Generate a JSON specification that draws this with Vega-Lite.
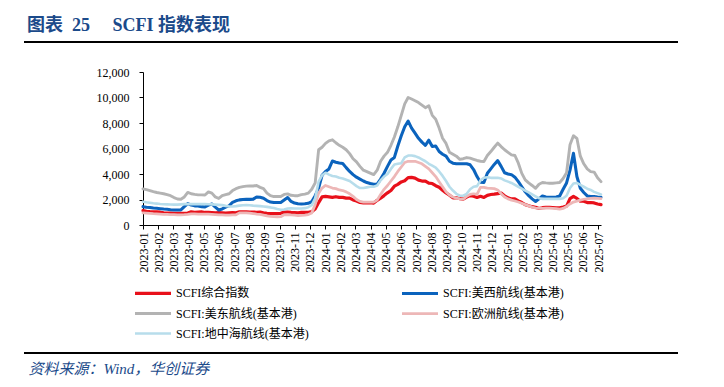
{
  "$schema": "https://vega.github.io/schema/vega-lite/v6.json",
  "background": "white",
  "autosize": {"type": "none"},
  "padding": {"left": 143, "top": 72, "right": 123, "bottom": 162},
  "width": 458,
  "height": 153,
  "title": {"text": "图表\u00a0\u00a025\u00a0\u00a0\u00a0\u00a0\u00a0SCFI\u00a0指数表现", "anchor": "start", "frame": "group", "dx": -116, "dy": 23, "offset": 11, "baseline": "bottom", "font": "'Liberation Serif', 'Noto Sans CJK SC'", "fontSize": 18, "fontWeight": "bold", "color": "#1B4A8A"},
  "config": {
    "view": {"stroke": null},
    "axis": {"labelFont": "Liberation Serif", "labelFontSize": 12, "labelColor": "#000000", "domainColor": "#000000", "tickColor": "#000000", "grid": false, "domainWidth": 1, "tickWidth": 1, "labelOverlap": false, "tickSize": 4},
    "axisX": {"labelFlush": false, "labelBound": false, "labelOverlap": false},
    "axisY": {"labelOverlap": false}
  },
  "layer": [
    {
      "data": {"values": [
{"d":"2023-01-06","a":1130,"b":1440,"c":2830,"e":950,"f":1830},
{"d":"2023-01-13","a":1079,"b":1400,"c":2770,"e":930,"f":1780},
{"d":"2023-01-20","a":1053,"b":1370,"c":2700,"e":910,"f":1740},
{"d":"2023-01-27","a":1040,"b":1330,"c":2620,"e":890,"f":1700},
{"d":"2023-02-03","a":1029,"b":1310,"c":2550,"e":880,"f":1680},
{"d":"2023-02-10","a":1004,"b":1280,"c":2500,"e":860,"f":1650},
{"d":"2023-02-17","a":946,"b":1250,"c":2450,"e":840,"f":1630},
{"d":"2023-02-24","a":941,"b":1230,"c":2380,"e":830,"f":1620},
{"d":"2023-03-03","a":926,"b":1200,"c":2300,"e":820,"f":1610},
{"d":"2023-03-10","a":906,"b":1180,"c":2150,"e":810,"f":1600},
{"d":"2023-03-17","a":910,"b":1180,"c":2040,"e":800,"f":1600},
{"d":"2023-03-24","a":908,"b":1180,"c":2020,"e":800,"f":1620},
{"d":"2023-03-31","a":923,"b":1440,"c":2200,"e":810,"f":1640},
{"d":"2023-04-07","a":934,"b":1680,"c":2560,"e":830,"f":1650},
{"d":"2023-04-14","a":1033,"b":1560,"c":2450,"e":880,"f":1640},
{"d":"2023-04-21","a":999,"b":1500,"c":2400,"e":870,"f":1640},
{"d":"2023-04-28","a":1009,"b":1490,"c":2360,"e":860,"f":1650},
{"d":"2023-05-05","a":1025,"b":1440,"c":2360,"e":860,"f":1640},
{"d":"2023-05-12","a":983,"b":1420,"c":2350,"e":850,"f":1640},
{"d":"2023-05-19","a":1001,"b":1560,"c":2600,"e":850,"f":1630},
{"d":"2023-05-26","a":980,"b":1650,"c":2500,"e":840,"f":1620},
{"d":"2023-06-02","a":955,"b":1400,"c":2200,"e":820,"f":1600},
{"d":"2023-06-09","a":969,"b":1180,"c":2080,"e":800,"f":1580},
{"d":"2023-06-16","a":955,"b":1260,"c":2300,"e":790,"f":1560},
{"d":"2023-06-23","a":931,"b":1400,"c":2380,"e":780,"f":1500},
{"d":"2023-06-30","a":953,"b":1500,"c":2450,"e":780,"f":1450},
{"d":"2023-07-07","a":979,"b":1780,"c":2700,"e":790,"f":1450},
{"d":"2023-07-14","a":957,"b":1900,"c":2850,"e":800,"f":1480},
{"d":"2023-07-21","a":1029,"b":1970,"c":2950,"e":950,"f":1520},
{"d":"2023-07-28","a":1041,"b":2000,"c":3010,"e":960,"f":1550},
{"d":"2023-08-04","a":1039,"b":2020,"c":3050,"e":960,"f":1560},
{"d":"2023-08-11","a":1013,"b":2010,"c":3070,"e":940,"f":1550},
{"d":"2023-08-18","a":1013,"b":2030,"c":3060,"e":900,"f":1520},
{"d":"2023-08-25","a":1000,"b":2200,"c":3100,"e":860,"f":1500},
{"d":"2023-09-01","a":1012,"b":2180,"c":2950,"e":830,"f":1480},
{"d":"2023-09-08","a":961,"b":2100,"c":2850,"e":780,"f":1450},
{"d":"2023-09-15","a":921,"b":1920,"c":2500,"e":720,"f":1420},
{"d":"2023-09-22","a":897,"b":1800,"c":2300,"e":680,"f":1380},
{"d":"2023-09-29","a":886,"b":1760,"c":2230,"e":650,"f":1330},
{"d":"2023-10-06","a":886,"b":1760,"c":2230,"e":640,"f":1250},
{"d":"2023-10-13","a":917,"b":1770,"c":2240,"e":650,"f":1200},
{"d":"2023-10-20","a":1012,"b":1960,"c":2400,"e":800,"f":1220},
{"d":"2023-10-27","a":1013,"b":2150,"c":2440,"e":820,"f":1300},
{"d":"2023-11-03","a":984,"b":1850,"c":2330,"e":790,"f":1310},
{"d":"2023-11-10","a":977,"b":1720,"c":2300,"e":770,"f":1300},
{"d":"2023-11-17","a":951,"b":1660,"c":2300,"e":740,"f":1290},
{"d":"2023-11-24","a":1000,"b":1650,"c":2380,"e":760,"f":1300},
{"d":"2023-12-01","a":993,"b":1660,"c":2420,"e":780,"f":1320},
{"d":"2023-12-08","a":1002,"b":1700,"c":2500,"e":820,"f":1400},
{"d":"2023-12-15","a":1047,"b":1830,"c":2800,"e":950,"f":1550},
{"d":"2023-12-22","a":1254,"b":2300,"c":3300,"e":1600,"f":2100},
{"d":"2023-12-29","a":1760,"b":2900,"c":5900,"e":2500,"f":3400},
{"d":"2024-01-05","a":2206,"b":3900,"c":6100,"e":2900,"f":3900},
{"d":"2024-01-12","a":2239,"b":4200,"c":6400,"e":3100,"f":4100},
{"d":"2024-01-19","a":2206,"b":4400,"c":6600,"e":3000,"f":3950},
{"d":"2024-01-26","a":2170,"b":5020,"c":6680,"e":2900,"f":3850},
{"d":"2024-02-02","a":2218,"b":4920,"c":6450,"e":2850,"f":3800},
{"d":"2024-02-09","a":2166,"b":4860,"c":6250,"e":2750,"f":3700},
{"d":"2024-02-16","a":2166,"b":4820,"c":6100,"e":2700,"f":3650},
{"d":"2024-02-23","a":2110,"b":4500,"c":5900,"e":2600,"f":3550},
{"d":"2024-03-01","a":2109,"b":4200,"c":5600,"e":2450,"f":3450},
{"d":"2024-03-08","a":1964,"b":3950,"c":5200,"e":2250,"f":3250},
{"d":"2024-03-15","a":1885,"b":3750,"c":4950,"e":2000,"f":3050},
{"d":"2024-03-22","a":1772,"b":3600,"c":4600,"e":1850,"f":2900},
{"d":"2024-03-29","a":1731,"b":3450,"c":4300,"e":1800,"f":2900},
{"d":"2024-04-05","a":1732,"b":3330,"c":4190,"e":1790,"f":2950},
{"d":"2024-04-12","a":1745,"b":3250,"c":4070,"e":1790,"f":3000},
{"d":"2024-04-19","a":1717,"b":3200,"c":3950,"e":1790,"f":3000},
{"d":"2024-04-26","a":1940,"b":3200,"c":4300,"e":1950,"f":3100},
{"d":"2024-05-03","a":2100,"b":3600,"c":5000,"e":2400,"f":3500},
{"d":"2024-05-10","a":2305,"b":4060,"c":5400,"e":2800,"f":3800},
{"d":"2024-05-17","a":2521,"b":4600,"c":5700,"e":3100,"f":4000},
{"d":"2024-05-24","a":2704,"b":5100,"c":6250,"e":3450,"f":4400},
{"d":"2024-05-31","a":3044,"b":5300,"c":6900,"e":3800,"f":4750},
{"d":"2024-06-07","a":3184,"b":6200,"c":7700,"e":4200,"f":4800},
{"d":"2024-06-14","a":3379,"b":7000,"c":8600,"e":4550,"f":4850},
{"d":"2024-06-21","a":3475,"b":7700,"c":9500,"e":4900,"f":5300},
{"d":"2024-06-28","a":3714,"b":8150,"c":10000,"e":5000,"f":5450},
{"d":"2024-07-05","a":3733,"b":7600,"c":9880,"e":5000,"f":5450},
{"d":"2024-07-12","a":3674,"b":7200,"c":9750,"e":5000,"f":5400},
{"d":"2024-07-19","a":3516,"b":6800,"c":9600,"e":4900,"f":5300},
{"d":"2024-07-26","a":3448,"b":6500,"c":9400,"e":4800,"f":5150},
{"d":"2024-08-02","a":3447,"b":6250,"c":9200,"e":4600,"f":5000},
{"d":"2024-08-09","a":3281,"b":6650,"c":9350,"e":4400,"f":4800},
{"d":"2024-08-16","a":3253,"b":6150,"c":8600,"e":4100,"f":4650},
{"d":"2024-08-23","a":3082,"b":6200,"c":8300,"e":3800,"f":4500},
{"d":"2024-08-30","a":2963,"b":5760,"c":7600,"e":3400,"f":4200},
{"d":"2024-09-06","a":2727,"b":5550,"c":6800,"e":3000,"f":3850},
{"d":"2024-09-13","a":2510,"b":5400,"c":6400,"e":2600,"f":3450},
{"d":"2024-09-20","a":2340,"b":5000,"c":5700,"e":2350,"f":3000},
{"d":"2024-09-27","a":2135,"b":4850,"c":5550,"e":2200,"f":2700},
{"d":"2024-10-04","a":2135,"b":4800,"c":5400,"e":2100,"f":2450},
{"d":"2024-10-11","a":2062,"b":4800,"c":5150,"e":2050,"f":2300},
{"d":"2024-10-18","a":2034,"b":4800,"c":5200,"e":2020,"f":2300},
{"d":"2024-10-25","a":2185,"b":4800,"c":5290,"e":2250,"f":2450},
{"d":"2024-11-01","a":2303,"b":4720,"c":5240,"e":2400,"f":2800},
{"d":"2024-11-08","a":2253,"b":4350,"c":5150,"e":2450,"f":3000},
{"d":"2024-11-15","a":2160,"b":3800,"c":5060,"e":2400,"f":3050},
{"d":"2024-11-22","a":2251,"b":3350,"c":5000,"e":2950,"f":3500},
{"d":"2024-11-29","a":2160,"b":3330,"c":4980,"e":2950,"f":3700},
{"d":"2024-12-06","a":2326,"b":4060,"c":5450,"e":2900,"f":3750},
{"d":"2024-12-13","a":2390,"b":4400,"c":5760,"e":2880,"f":3700},
{"d":"2024-12-20","a":2417,"b":4750,"c":6100,"e":2850,"f":3700},
{"d":"2024-12-27","a":2460,"b":5050,"c":6420,"e":2750,"f":3700},
{"d":"2025-01-03","a":2505,"b":4600,"c":6150,"e":2450,"f":3650},
{"d":"2025-01-10","a":2292,"b":4100,"c":5900,"e":2200,"f":3500},
{"d":"2025-01-17","a":2130,"b":4000,"c":5700,"e":2050,"f":3400},
{"d":"2025-01-24","a":2046,"b":3950,"c":5500,"e":1950,"f":3300},
{"d":"2025-01-31","a":2046,"b":3750,"c":5450,"e":1880,"f":3150},
{"d":"2025-02-07","a":1896,"b":3400,"c":4850,"e":1800,"f":3000},
{"d":"2025-02-14","a":1762,"b":3000,"c":4050,"e":1700,"f":2850},
{"d":"2025-02-21","a":1596,"b":2600,"c":3540,"e":1600,"f":2700},
{"d":"2025-02-28","a":1516,"b":2300,"c":3300,"e":1500,"f":2550},
{"d":"2025-03-07","a":1436,"b":2050,"c":3100,"e":1400,"f":2400},
{"d":"2025-03-14","a":1394,"b":1850,"c":2880,"e":1330,"f":2250},
{"d":"2025-03-21","a":1293,"b":2050,"c":3200,"e":1310,"f":2100},
{"d":"2025-03-28","a":1356,"b":2280,"c":3330,"e":1310,"f":2050},
{"d":"2025-04-04","a":1379,"b":2200,"c":3300,"e":1320,"f":2050},
{"d":"2025-04-11","a":1394,"b":2180,"c":3280,"e":1320,"f":2050},
{"d":"2025-04-18","a":1371,"b":2180,"c":3275,"e":1310,"f":2050},
{"d":"2025-04-25","a":1348,"b":2200,"c":3300,"e":1290,"f":2050},
{"d":"2025-05-02","a":1345,"b":2280,"c":3330,"e":1250,"f":2050},
{"d":"2025-05-09","a":1406,"b":2800,"c":3650,"e":1300,"f":2100},
{"d":"2025-05-16","a":1479,"b":3300,"c":4100,"e":1450,"f":2300},
{"d":"2025-05-23","a":2073,"b":4300,"c":6300,"e":1650,"f":2900},
{"d":"2025-05-30","a":2240,"b":5630,"c":7000,"e":1800,"f":3250},
{"d":"2025-06-06","a":2088,"b":3800,"c":6800,"e":1870,"f":3300},
{"d":"2025-06-13","a":1869,"b":2880,"c":5400,"e":1950,"f":3150},
{"d":"2025-06-20","a":1861,"b":2550,"c":4800,"e":2020,"f":3000},
{"d":"2025-06-27","a":1762,"b":2280,"c":4400,"e":2050,"f":2850},
{"d":"2025-07-04","a":1763,"b":2230,"c":4190,"e":2080,"f":2750},
{"d":"2025-07-11","a":1733,"b":2230,"c":4150,"e":2100,"f":2600},
{"d":"2025-07-18","a":1646,"b":2200,"c":3700,"e":2080,"f":2500},
{"d":"2025-07-25","a":1593,"b":2180,"c":3400,"e":2060,"f":2400}
      ]},
      "transform": [{"fold": ["a", "b", "c", "e", "f"], "as": ["key", "v"]}],
      "mark": {"type": "line", "strokeJoin": "round", "strokeCap": "round"},
      "encoding": {
        "x": {"field": "d", "type": "temporal",
          "scale": {"domain": [1672963200000, 1753401600000], "nice": false},
          "axis": {
            "values": [1672963200000,1675627200000,1678291200000,1680955200000,1683619200000,1686283200000,1688947200000,1691611200000,1694275200000,1696939200000,1699603200000,1702267200000,1704931200000,1707595200000,1710259200000,1712923200000,1715587200000,1718251200000,1720915200000,1723579200000,1726243200000,1728907200000,1731571200000,1734235200000,1736899200000,1739563200000,1742227200000,1744891200000,1747555200000,1750219200000,1752883200000],
            "tickCount": 100,
            "labelExpr": "timeFormat(datetime(2023, round((datum.value - 1672963200000) / 2664000000), 1), '%Y-%m')",
            "labelAngle": 270, "labelAlign": "right", "labelBaseline": "middle",
            "tickSize": 4, "labelPadding": 3, "labelOverlap": false, "labelFlush": false, "labelBound": false,
            "title": "资料来源：Wind，华创证券", "titleX": -115, "titleY": 143, "titleAlign": "left", "titleBaseline": "middle", "titleAnchor": "start",
            "titleFont": "'Liberation Serif', 'Noto Sans CJK SC'", "titleFontSize": 15, "titleFontStyle": "italic", "titleFontWeight": "normal", "titleColor": "#1B4A8A"
          }
        },
        "y": {"field": "v", "type": "quantitative", "title": null,
          "scale": {"domain": [0, 12000], "nice": false},
          "axis": {"values": [0, 2000, 4000, 6000, 8000, 10000, 12000], "tickCount": 20, "format": ",.0f", "tickSize": 4, "labelPadding": 10, "labelOverlap": false}
        },
        "color": {"field": "key", "type": "nominal",
          "scale": {"domain": ["a", "b", "c", "e", "f"], "range": ["#E8101A", "#0B63BD", "#B3B3B3", "#EDB7B7", "#B7DDEB"]},
          "legend": {
            "title": null, "orient": "none", "legendX": 2, "legendY": 213, "columns": 2, "direction": "horizontal",
            "padding": 0, "columnPadding": 86, "rowPadding": 6,
            "symbolType": "M-3,0H3", "symbolSize": 144, "symbolStrokeWidth": 3.5,
            "labelOffset": 15, "labelFont": "'Liberation Serif', 'Noto Sans CJK SC'", "labelFontSize": 12, "labelColor": "#000000", "labelLimit": 400,
            "labelExpr": "datum.value == 'a' ? 'SCFI综合指数' : datum.value == 'b' ? 'SCFI:美西航线(基本港)' : datum.value == 'c' ? 'SCFI:美东航线(基本港)' : datum.value == 'e' ? 'SCFI:欧洲航线(基本港)' : 'SCFI:地中海航线(基本港)'"
          }
        },
        "strokeWidth": {"field": "key", "type": "nominal",
          "scale": {"domain": ["a", "b", "c", "e", "f"], "range": [3.2, 2.6, 2.6, 3, 2.6]},
          "legend": null
        }
      }
    },
    {
      "data": {"values": [{"r": "top"}]},
      "mark": {"type": "rule", "color": "#000000", "strokeWidth": 2, "clip": false},
      "encoding": {
        "x": {"datum": 1652063300000, "type": "temporal"},
        "x2": {"datum": 1766925200000},
        "y": {"datum": 14353, "type": "quantitative"}
      }
    },
    {
      "data": {"values": [{"r": "bottom"}]},
      "mark": {"type": "rule", "color": "#000000", "strokeWidth": 2, "clip": false},
      "encoding": {
        "x": {"datum": 1652063300000, "type": "temporal"},
        "x2": {"datum": 1766925200000},
        "y": {"datum": -10039, "type": "quantitative"}
      }
    }
  ]
}
